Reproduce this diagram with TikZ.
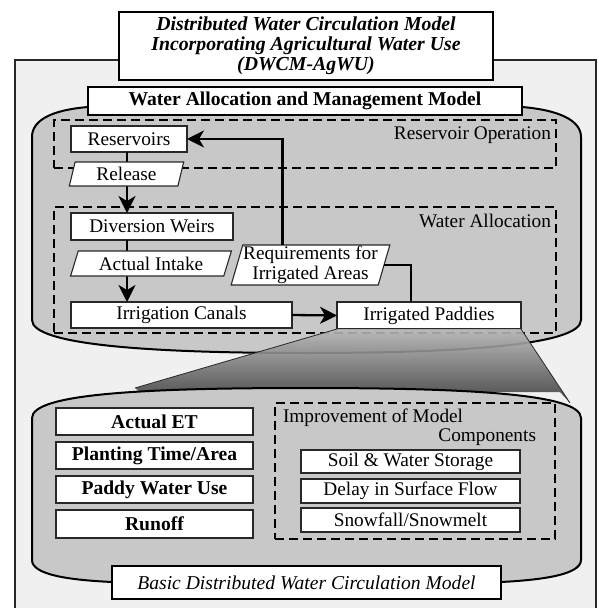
\documentclass[tikz,border=0pt]{standalone}
\usepackage{fontspec}
\setmainfont{Liberation Serif}
\usetikzlibrary{shapes.geometric,arrows.meta,calc}
\definecolor{bgcol}{RGB}{240,240,240}
\definecolor{shapecol}{RGB}{200,200,200}
\definecolor{edgecol}{RGB}{40,40,40}
\newcommand\mysz{\fontsize{19.3}{20}\selectfont}
\newcommand\bsz{\fontsize{19.6}{20}\selectfont}
\newcommand\titlesz{\fontsize{19.8}{20.2}\selectfont}
\tikzset{
  box/.style={draw=edgecol, fill=white, line width=1.1pt, inner sep=0pt, outer sep=0pt, font=\mysz},
  bbox/.style={box, font=\bsz\bfseries},
  para/.style={trapezium, trapezium stretches=true, draw=edgecol, fill=white, line width=1.1pt,
    inner sep=0pt, outer sep=0pt, font=\mysz, align=center},
  dbox/.style={draw=black, dash pattern=on 9pt off 5pt, line width=2pt, inner sep=0pt, outer sep=0pt},
  blob/.style={fill=shapecol, draw=black, line width=2pt},
  lbl/.style={inner sep=0pt, outer sep=0pt, font=\mysz},
  conn/.style={draw=black, line width=2.3pt},
  arr/.style={conn, -{Stealth[length=17pt,width=17pt,inset=5pt]}},
}
\begin{document}
\begin{tikzpicture}[x=1pt,y=-1pt]
\useasboundingbox (0,0) rectangle (598,608);
% outer frame
\path[fill=bgcol, draw=edgecol, line width=1.6pt] (15,60) rectangle (596,615);
% upper shape
\path[blob] (88,107) .. controls (52,110) and (32,120) .. (32,137) -- (32,320)
  .. controls (32,345) and (150,353) .. (306,353) .. controls (462,353) and (581,345) .. (581,320)
  -- (581,137) .. controls (581,120) and (558,110) .. (522,107) -- cycle;
% dashed boxes upper
\node[dbox, minimum width=502pt, minimum height=48pt] (resop) at (305,144) {};
\node[lbl, anchor=east] (resoplbl) at (551,135) {Reservoir Operation};
\node[dbox, minimum width=502pt, minimum height=126pt] (walloc) at (305,270) {};
\node[lbl, anchor=east] (walloclbl) at (551,221) {Water Allocation};
% boxes
\node[box, minimum width=116pt, minimum height=26pt] (res) at (129,139) {Reservoirs};
\node[box, minimum width=162pt, minimum height=27pt] (weirs) at (152,226.5) {Diversion Weirs};
\node[box, minimum width=221pt, minimum height=26pt] (canals) at (181.5,315) {Irrigation Canals};
\node[box, minimum width=184pt, minimum height=27pt] (paddies) at (429,315.5) {Irrigated Paddies};
% connectors
\draw[arr] (res.south -| 127,0) -- (weirs.north -| 127,0);
\draw[arr] (weirs.south -| 127,0) -- (canals.north -| 127,0);
\draw[arr] (canals.east) -- (paddies.west);
% parallelograms
\node[para, trapezium left angle=76, trapezium right angle=104, minimum width=115pt, minimum height=24pt] (release) at (126.5,174) {Release};
\node[para, trapezium left angle=68, trapezium right angle=112, minimum width=161pt, minimum height=25pt] (intake) at (151,263.5) {Actual Intake};
\node[para, trapezium left angle=73, trapezium right angle=107, minimum width=159pt, minimum height=40pt] (req) at (310.5,265) {Requirements for\\Irrigated Areas};
\draw[conn] ([xshift=-18pt]paddies.north) |- (req.east);
\draw[arr] ([xshift=-28pt]req.north) |- (res.east);
% funnel
\path[top color={rgb,255:red,184;green,184;blue,184}, middle color={rgb,255:red,90;green,90;blue,90},
  bottom color={rgb,255:red,56;green,56;blue,56}, fill opacity=0.9]
  (paddies.south west) -- (paddies.south east) -- (570,403) -- (560,392) -- (140,392) -- (135,388) -- cycle;
\draw[edgecol, line width=0.8pt] (paddies.south west) -- (135,388);
\draw[edgecol, line width=0.8pt] (paddies.south east) -- (570,403);
% lower shape
\path[blob] (32,418) .. controls (32,394) and (140,388) .. (306,388) .. controls (470,388) and (581,394) .. (581,418)
  -- (581,560) .. controls (581,575) and (540,580) .. (501,582) -- (112,582)
  .. controls (70,580) and (32,575) .. (32,560) -- cycle;
% lower left boxes
\node[bbox, minimum width=197pt, minimum height=27pt] (et) at (154.5,421.5) {Actual ET};
\node[bbox, minimum width=197pt, minimum height=27pt] (plant) at (154.5,455.5) {Planting Time/Area};
\node[bbox, minimum width=197pt, minimum height=27pt] (pwu) at (154.5,489.5) {Paddy Water Use};
\node[bbox, minimum width=197pt, minimum height=28pt] (runoff) at (154.5,524) {Runoff};
% improvement box
\node[dbox, minimum width=280pt, minimum height=136pt] (impr) at (415,471) {};
\node[lbl, anchor=west] (imprlbl1) at (283,418) {Improvement of Model};
\node[lbl, anchor=east] (imprlbl2) at (536,437) {Components};
\node[box, minimum width=219pt, minimum height=23pt] (soil) at (410.5,461.5) {Soil \& Water Storage};
\node[box, minimum width=219pt, minimum height=24pt] (delay) at (410.5,491) {Delay in Surface Flow};
\node[box, minimum width=219pt, minimum height=24pt] (snow) at (410.5,520) {Snowfall/Snowmelt};
% title boxes
\node[box, line width=2.5pt, draw=black, minimum width=374pt, minimum height=68pt, align=center,
  font=\titlesz\bfseries\itshape] (title) at (306,46)
  {Distributed Water Circulation Model\\Incorporating Agricultural Water Use\\(DWCM-AgWU)};
\node[bbox, line width=2pt, draw=black, minimum width=434pt, minimum height=28pt] (wamm) at (305,101)
  {Water Allocation and Management Model};
\node[box, line width=2pt, draw=black, minimum width=389pt, minimum height=33pt, font=\bsz\itshape] (basic) at (306.5,582.5)
  {Basic Distributed Water Circulation Model};
\end{tikzpicture}
\end{document}
